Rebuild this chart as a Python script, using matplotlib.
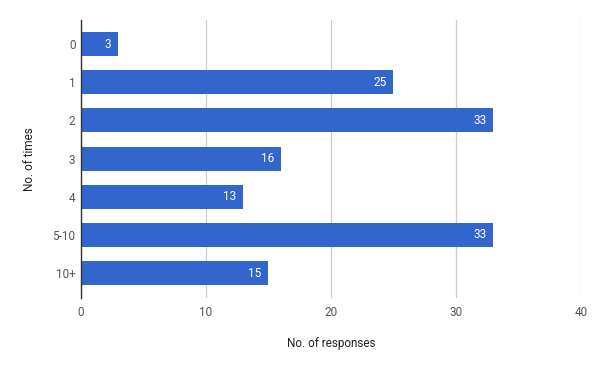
import matplotlib
matplotlib.use("Agg")
import matplotlib.pyplot as plt

plt.rcParams['font.family'] = ['Roboto', 'DejaVu Sans']

categories = ["0", "1", "2", "3", "4", "5-10", "10+"]
responses = [3, 25, 33, 16, 13, 33, 15]
xticks = [0, 10, 20, 30, 40]

bar_color = "#3366cc"
text_color = "#555555"

fig = plt.figure(figsize=(6, 3.71), dpi=100)
ax = fig.add_axes([0.135, 0.197, 0.833, 0.749])

pos = list(range(len(categories)))
ax.barh(pos, responses, height=0.63, color=bar_color, zorder=3)

for y, v in zip(pos, responses):
    ax.annotate(str(v), (v, y), xytext=(-5, 0), textcoords="offset points",
                ha="right", va="center", color="white", fontsize=8.5, zorder=4)

ax.set_xlim(0, 40)
ax.set_ylim(6.65, -0.63)
ax.set_xticks(xticks)
ax.set_yticks(pos)
ax.set_yticklabels(categories)
ax.tick_params(length=0, labelsize=8.5, colors=text_color)
ax.tick_params(axis="x", pad=6)
ax.tick_params(axis="y", pad=4)

ax.grid(axis="x", color="#cccccc", linewidth=0.9, zorder=0)
for s in ["top", "right", "bottom"]:
    ax.spines[s].set_visible(False)
ax.spines["left"].set_color("#333333")
ax.spines["left"].set_linewidth(1)
ax.spines["left"].set_zorder(5)

ax.set_xlabel("No. of responses", fontsize=8.5, color="#222222", labelpad=13)
ax.set_ylabel("No. of times", fontsize=8.5, color="#222222", labelpad=12)

fig.savefig("out.png", dpi=100)
